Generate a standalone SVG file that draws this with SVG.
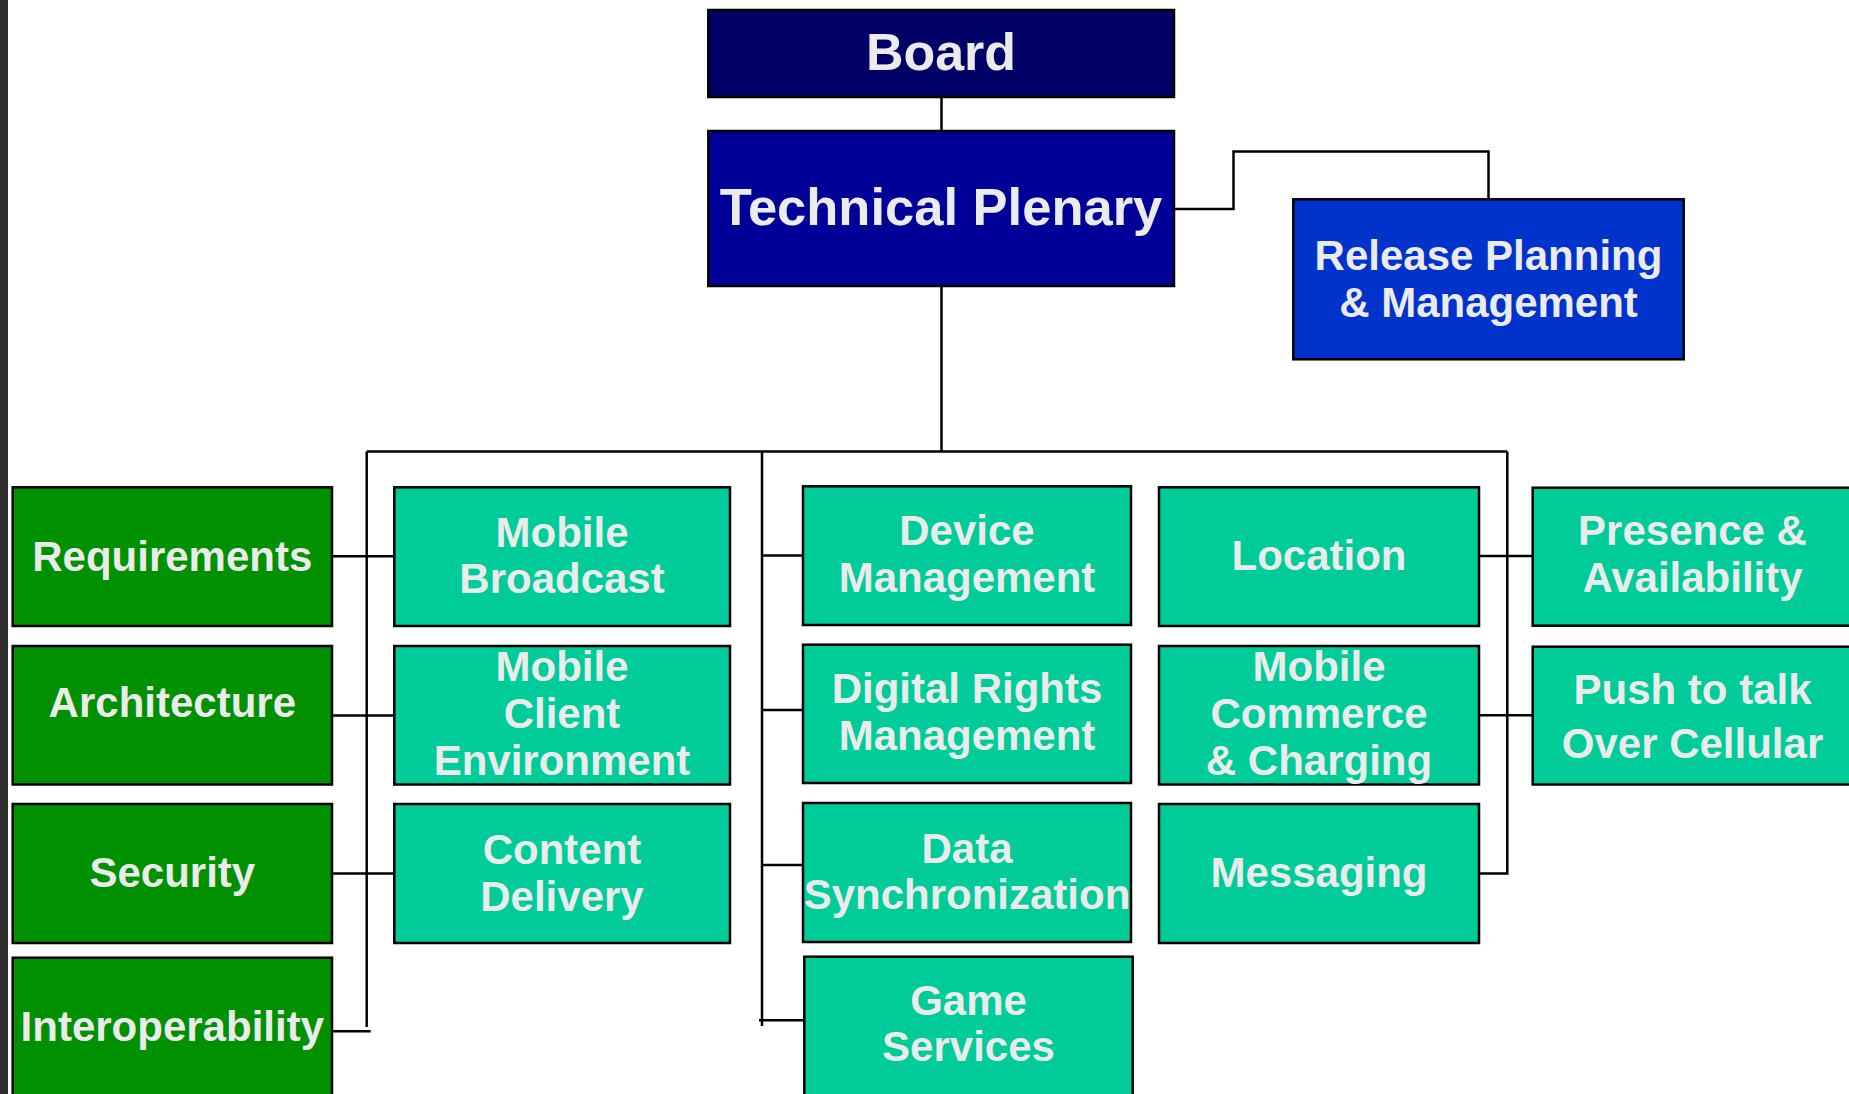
<svg xmlns="http://www.w3.org/2000/svg" width="1849" height="1094" viewBox="0 0 1849 1094">
<style>
.box{stroke:#000;stroke-width:2.5}
.navy{fill:#000066}
.tp{fill:#000099}
.rel{fill:#0033cc}
.green{fill:#009100}
.teal{fill:#00cc99}
text{font-family:"Liberation Sans",Arial,sans-serif;font-weight:bold;fill:#ebebeb;text-anchor:middle}
.big{font-size:52px}
.t{font-size:42px}
.conn{fill:none;stroke:#000;stroke-width:2.5}
</style>
<rect x="0" y="0" width="1849" height="1094" fill="#ffffff"/>
<rect x="0" y="0" width="8" height="1094" fill="#2f2c2c"/>

<g id="connectors">
<path class="conn" d="M941.5,97 V131"/>
<path class="conn" d="M941.5,286 V451.5"/>
<path class="conn" d="M1174,209 H1233.5 V151.5 H1488.5 V199"/>
<path class="conn" d="M366.7,451.5 H1507.3"/>
<path class="conn" d="M366.7,451.5 V1027"/>
<path class="conn" d="M762,451.5 V1026"/>
<path class="conn" d="M1507.3,451.5 V873.5 H1479"/>
<path class="conn" d="M332,556.3 H394.3"/>
<path class="conn" d="M332,715.5 H394.3"/>
<path class="conn" d="M332,873.5 H394.3"/>
<path class="conn" d="M332,1031.3 H370.7"/>
<path class="conn" d="M762,555.5 H803"/>
<path class="conn" d="M762,710 H803"/>
<path class="conn" d="M762,865 H803"/>
<path class="conn" d="M759,1020.3 H804.3"/>
<path class="conn" d="M1479,556 H1532.7"/>
<path class="conn" d="M1479,715.3 H1532.7"/>
</g>

<g id="board">
<rect class="box navy" x="708.3" y="10" width="465.7" height="87"/>
<text class="big" x="941" y="70">Board</text>
</g>
<g id="technical-plenary">
<rect class="box tp" x="708.3" y="131" width="465.7" height="155"/>
<text class="big" x="941" y="225" style="font-size:52.5px">Technical Plenary</text>
</g>
<g id="release-planning">
<rect class="box rel" x="1293.3" y="199.3" width="390.4" height="160"/>
<text class="t" x="1488.5" y="269.5">Release Planning</text>
<text class="t" x="1488.5" y="316.5">&amp; Management</text>
</g>

<g id="requirements">
<rect class="box green" x="12.7" y="487.3" width="319.3" height="138.7"/>
<text class="t" x="172.3" y="570.5">Requirements</text>
</g>
<g id="architecture">
<rect class="box green" x="12.7" y="646" width="319.3" height="138.5"/>
<text class="t" x="172.3" y="717">Architecture</text>
</g>
<g id="security">
<rect class="box green" x="12.7" y="804" width="319.3" height="139"/>
<text class="t" x="172.3" y="887">Security</text>
</g>
<g id="interoperability">
<rect class="box green" x="12.7" y="957.7" width="319.3" height="150"/>
<text class="t" x="172.3" y="1041">Interoperability</text>
</g>

<g id="mobile-broadcast">
<rect class="box teal" x="394.3" y="487.3" width="335.7" height="138.7"/>
<text class="t" x="562" y="546.5">Mobile</text>
<text class="t" x="562" y="593">Broadcast</text>
</g>
<g id="mobile-client-environment">
<rect class="box teal" x="394.3" y="646" width="335.7" height="138.5"/>
<text class="t" x="562" y="680.5">Mobile</text>
<text class="t" x="562" y="727.5">Client</text>
<text class="t" x="562" y="775">Environment</text>
</g>
<g id="content-delivery">
<rect class="box teal" x="394.3" y="804" width="335.7" height="139"/>
<text class="t" x="562" y="864">Content</text>
<text class="t" x="562" y="910.5">Delivery</text>
</g>

<g id="device-management">
<rect class="box teal" x="803" y="486.3" width="328" height="138.7"/>
<text class="t" x="967" y="544.5">Device</text>
<text class="t" x="967" y="591.5">Management</text>
</g>
<g id="digital-rights-management">
<rect class="box teal" x="803" y="644.7" width="328" height="138.3"/>
<text class="t" x="967" y="702.5">Digital Rights</text>
<text class="t" x="967" y="750">Management</text>
</g>
<g id="data-synchronization">
<rect class="box teal" x="803" y="803" width="328" height="139"/>
<text class="t" x="967" y="862.5">Data</text>
<text class="t" x="967" y="908.5">Synchronization</text>
</g>
<g id="game-services">
<rect class="box teal" x="804.3" y="956.7" width="328.4" height="150"/>
<text class="t" x="968.5" y="1015">Game</text>
<text class="t" x="968.5" y="1061">Services</text>
</g>

<g id="location">
<rect class="box teal" x="1159" y="487.3" width="320" height="138.7"/>
<text class="t" x="1319" y="570">Location</text>
</g>
<g id="mobile-commerce-charging">
<rect class="box teal" x="1159" y="646" width="320" height="138.5"/>
<text class="t" x="1319" y="680.5">Mobile</text>
<text class="t" x="1319" y="727.5">Commerce</text>
<text class="t" x="1319" y="774.5">&amp; Charging</text>
</g>
<g id="messaging">
<rect class="box teal" x="1159" y="804" width="320" height="139"/>
<text class="t" x="1319" y="887">Messaging</text>
</g>

<g id="presence-availability">
<rect class="box teal" x="1532.7" y="487.7" width="320" height="138"/>
<text class="t" x="1692.5" y="545">Presence &amp;</text>
<text class="t" x="1692.5" y="592">Availability</text>
</g>
<g id="push-to-talk">
<rect class="box teal" x="1532.7" y="646.7" width="320" height="137.8"/>
<text class="t" x="1692.5" y="704">Push to talk</text>
<text class="t" x="1692.5" y="758">Over Cellular</text>
</g>
</svg>
